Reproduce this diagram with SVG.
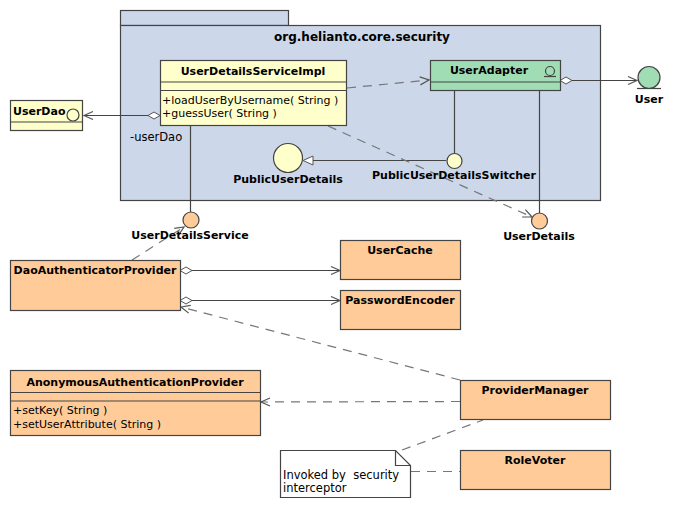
<svg xmlns="http://www.w3.org/2000/svg" width="679" height="507" viewBox="0 0 679 507">
<defs>
<style>
.b{stroke:#444;stroke-width:1.2}
.pk{fill:#cdd7ea}
.y{fill:#ffffcc}
.o{fill:#ffcc99}
.g{fill:#a0dcb4}
.n{fill:#fff}
.t{font-family:"DejaVu Sans",sans-serif;font-size:11.5px;fill:#000}
.tb{font-family:"DejaVu Sans",sans-serif;font-size:11px;font-weight:bold;fill:#000}
.m{font-family:"DejaVu Sans",sans-serif;font-size:11px;fill:#000}
.ln{fill:none;stroke:#444;stroke-width:1.2}
.dl{fill:none;stroke:#777;stroke-width:1.2;stroke-dasharray:9,7}
</style>
<marker id="open" markerUnits="userSpaceOnUse" markerWidth="12" markerHeight="12" refX="9" refY="4" orient="auto" overflow="visible"><path d="M0,0 L9,4 L0,8" fill="none" stroke="#555" stroke-width="1.2"/></marker>
<marker id="dia" markerUnits="userSpaceOnUse" markerWidth="14" markerHeight="8" refX="0" refY="3.5" orient="auto" overflow="visible"><path d="M0,3.5 L6,0 L12,3.5 L6,7 Z" fill="#fff" stroke="#555" stroke-width="1"/></marker>
<marker id="tri" markerUnits="userSpaceOnUse" markerWidth="12" markerHeight="12" refX="10" refY="4.5" orient="auto" overflow="visible"><path d="M0,0 L10,4.5 L0,9 Z" fill="#fff" stroke="#555" stroke-width="1"/></marker>
</defs>

<g id="package">
<rect class="pk b" x="120.5" y="10.5" width="168" height="15"/>
<rect class="pk b" x="120.5" y="25.5" width="480" height="175"/>
<text class="tb" x="362" y="41" text-anchor="middle" style="font-size:12px">org.helianto.core.security</text>
</g>

<g id="connectors">
<line class="ln" x1="160" y1="115.5" x2="84" y2="115.5" marker-start="url(#dia)" marker-end="url(#open)"/>
<line class="ln" x1="190.5" y1="126" x2="190.5" y2="212"/>
<line class="dl" x1="347" y1="88" x2="429" y2="80" marker-end="url(#open)"/>
<line class="ln" x1="560" y1="80.5" x2="637" y2="80.5" marker-start="url(#dia)" marker-end="url(#open)"/>
<line class="ln" x1="454.5" y1="91" x2="454.5" y2="153"/>
<line class="ln" x1="446" y1="160.5" x2="303" y2="160.5" marker-end="url(#tri)"/>
<line class="ln" x1="539.5" y1="91" x2="539.5" y2="213"/>
<line class="dl" x1="328" y1="126" x2="532" y2="217" marker-end="url(#open)"/>
<line class="dl" x1="132" y1="260" x2="184" y2="227" marker-end="url(#open)"/>
<line class="ln" x1="180" y1="270.5" x2="340" y2="270.5" marker-start="url(#dia)" marker-end="url(#open)"/>
<line class="ln" x1="180" y1="300.5" x2="340" y2="300.5" marker-start="url(#dia)" marker-end="url(#open)"/>
<line class="dl" x1="460" y1="380" x2="181" y2="307" marker-end="url(#open)"/>
<line class="dl" x1="460" y1="401.5" x2="261" y2="402" marker-end="url(#open)"/>
<line class="dl" x1="402" y1="450" x2="483" y2="420"/>
<line class="dl" x1="411" y1="471.5" x2="460" y2="471.5"/>
</g>

<g id="UserDetailsServiceImpl">
<rect class="y b" x="160.5" y="60.5" width="186" height="65"/>
<line class="b" x1="160.5" y1="82" x2="346.5" y2="82"/>
<line class="b" x1="160.5" y1="90.5" x2="346.5" y2="90.5"/>
<text class="tb" x="253" y="75" text-anchor="middle">UserDetailsServiceImpl</text>
<text class="m" x="162" y="104">+loadUserByUsername( String )</text>
<text class="m" x="162" y="117">+guessUser( String )</text>
</g>

<g id="UserDao">
<rect class="y b" x="10.5" y="100.5" width="72" height="30"/>
<line class="b" x1="10.5" y1="122" x2="82.5" y2="122"/>
<text class="tb" x="13" y="115">UserDao</text>
<circle class="b" cx="73" cy="115" r="6" fill="none"/>
</g>
<text id="userDaoRole" class="t" x="130" y="141">-userDao</text>

<g id="UserAdapter">
<rect class="g b" x="430.5" y="60.5" width="130" height="30"/>
<line class="b" x1="430.5" y1="82" x2="560.5" y2="82"/>
<text class="tb" x="489" y="74" text-anchor="middle">UserAdapter</text>
<circle class="b" cx="550" cy="71" r="4.5" fill="none"/>
<line class="b" x1="544" y1="76.5" x2="556" y2="76.5"/>
</g>

<g id="User">
<circle class="g b" cx="649" cy="77.5" r="11"/>
<line class="b" x1="637" y1="88.5" x2="661" y2="88.5"/>
<text class="tb" x="649" y="103" text-anchor="middle">User</text>
</g>

<g id="PublicUserDetails">
<circle class="y b" cx="288" cy="158" r="14.5"/>
<text class="tb" x="288" y="183" text-anchor="middle">PublicUserDetails</text>
</g>

<g id="PublicUserDetailsSwitcher">
<circle class="y b" cx="454.5" cy="161" r="7.5"/>
<text class="tb" x="454" y="179" text-anchor="middle">PublicUserDetailsSwitcher</text>
</g>

<g id="UserDetailsService">
<circle class="o b" cx="191" cy="220" r="8"/>
<text class="tb" x="190" y="239" text-anchor="middle">UserDetailsService</text>
</g>

<g id="UserDetails">
<circle class="o b" cx="539.5" cy="221" r="8"/>
<text class="tb" x="539" y="240" text-anchor="middle">UserDetails</text>
</g>

<g id="DaoAuthenticatorProvider">
<rect class="o b" x="10.5" y="260.5" width="170" height="50"/>
<text class="tb" x="95" y="274" text-anchor="middle">DaoAuthenticatorProvider</text>
</g>

<g id="UserCache">
<rect class="o b" x="340.5" y="240.5" width="120" height="39"/>
<text class="tb" x="400" y="254" text-anchor="middle">UserCache</text>
</g>

<g id="PasswordEncoder">
<rect class="o b" x="340.5" y="290.5" width="120" height="39"/>
<text class="tb" x="400" y="304" text-anchor="middle">PasswordEncoder</text>
</g>

<g id="AnonymousAuthenticationProvider">
<rect class="o b" x="10.5" y="370.5" width="250" height="65"/>
<line class="b" x1="10.5" y1="392.5" x2="260.5" y2="392.5"/>
<line class="b" x1="10.5" y1="401" x2="260.5" y2="401"/>
<text class="tb" x="135" y="386" text-anchor="middle">AnonymousAuthenticationProvider</text>
<text class="m" x="13" y="414">+setKey( String )</text>
<text class="m" x="13" y="428">+setUserAttribute( String )</text>
</g>

<g id="ProviderManager">
<rect class="o b" x="460.5" y="380.5" width="150" height="39"/>
<text class="tb" x="535" y="394" text-anchor="middle">ProviderManager</text>
</g>

<g id="RoleVoter">
<rect class="o b" x="460.5" y="450.5" width="150" height="39"/>
<text class="tb" x="535" y="464" text-anchor="middle">RoleVoter</text>
</g>

<g id="note">
<path class="n b" d="M280.5,450.5 H395.5 L410.5,465.5 V497.5 H280.5 Z"/>
<path class="b" d="M395.5,450.5 V465.5 H410.5" fill="none"/>
<text class="t" x="283" y="479" xml:space="preserve">Invoked by  security</text>
<text class="t" x="283" y="492">interceptor</text>
</g>
</svg>
